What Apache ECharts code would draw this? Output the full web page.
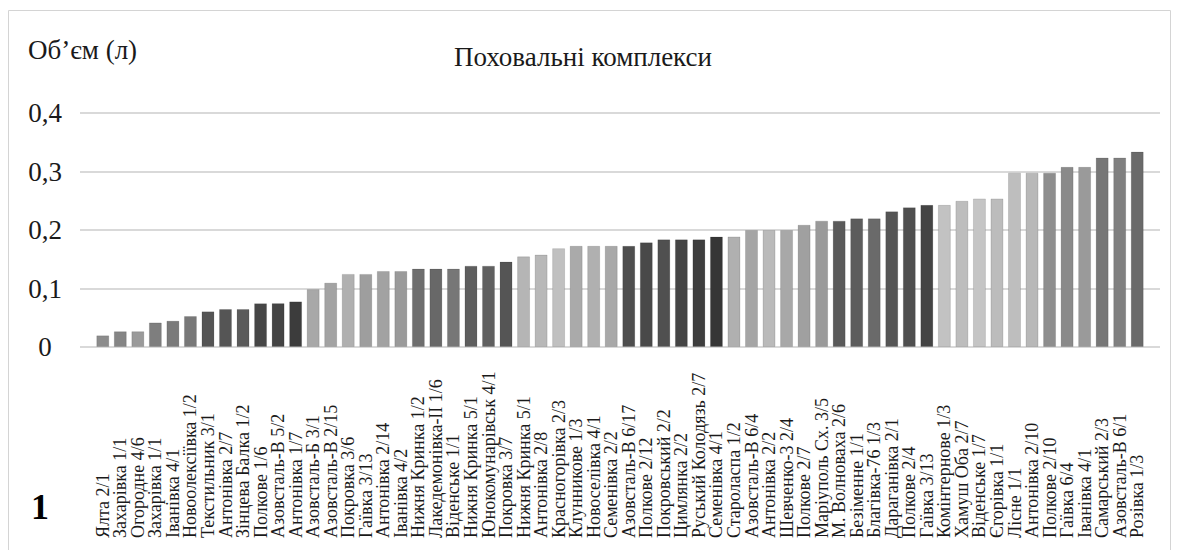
<!DOCTYPE html>
<html>
<head>
<meta charset="utf-8">
<title>Поховальні комплекси</title>
<script src="https://cdn.jsdelivr.net/npm/echarts@6/dist/echarts.min.js"></script>
<style>
  html, body { margin: 0; padding: 0; background: #ffffff; }
  #chart { width: 1179px; height: 550px; }
</style>
</head>
<body>
<div id="chart"></div>
<script>
// Burial complexes, sorted by vessel volume (litres)
const complexes = [
  'Ялта 2/1', 'Захарівка 1/1', 'Огородне 4/6', 'Захарівка 1/1', 'Іванівка 4/1',
  'Новоолексіївка 1/2', 'Текстильник 3/1', 'Антонівка 2/7', 'Зінцева Балка 1/2', 'Полкове 1/6',
  'Азовсталь-В 5/2', 'Антонівка 1/7', 'Азовсталь-Б 3/1', 'Азовсталь-В 2/15', 'Покровка 3/6',
  'Гаївка 3/13', 'Антонівка 2/14', 'Іванівка 4/2', 'Нижня Кринка 1/2', 'Лакедемонівка-II 1/6',
  'Віденське 1/1', 'Нижня Кринка 5/1', 'Юнокомунарівськ 4/1', 'Покровка 3/7', 'Нижня Кринка 5/1',
  'Антонівка 2/8', 'Красногорівка 2/3', 'Клунникове 1/3', 'Новоселівка 4/1', 'Семенівка 2/2',
  'Азовсталь-В 6/17', 'Полкове 2/12', 'Покровський 2/2', 'Цимлянка 2/2', 'Руський Колодязь 2/7',
  'Семенівка 4/1', 'Староласпа 1/2', 'Азовсталь-В 6/4', 'Антонівка 2/2', 'Шевченко-3 2/4',
  'Полкове 2/7', 'Маріуполь Сх. 3/5', 'М. Волноваха 2/6', 'Безіменне 1/1', 'Благівка-76 1/3',
  'Дараганівка 2/1', 'Полкове 2/4', 'Гаївка 3/13', 'Комінтернове 1/3', 'Хамуш Оба 2/7',
  'Віденське 1/7', 'Єгорівка 1/1', 'Лісне 1/1', 'Антонівка 2/10', 'Полкове 2/10',
  'Гаївка 6/4', 'Іванівка 4/1', 'Самарський 2/3', 'Азовсталь-В 6/1', 'Розівка 1/3'
];

const volumes = [
  0.020, 0.027, 0.027, 0.042, 0.045, 0.053, 0.061, 0.065, 0.065, 0.075,
  0.075, 0.078, 0.099, 0.110, 0.125, 0.125, 0.130, 0.130, 0.134, 0.134,
  0.134, 0.139, 0.139, 0.146, 0.155, 0.158, 0.169, 0.173, 0.173, 0.173,
  0.173, 0.179, 0.184, 0.184, 0.184, 0.189, 0.189, 0.200, 0.200, 0.200,
  0.209, 0.216, 0.216, 0.220, 0.220, 0.232, 0.239, 0.243, 0.243, 0.250,
  0.254, 0.254, 0.298, 0.298, 0.298, 0.308, 0.308, 0.324, 0.324, 0.334
];

// Grey shade of each bar, in the same order as the complexes
const barShades = [
  '#8c8c8c', '#858585', '#9a9a9a', '#7e7e7e', '#7a7a7a', '#787878', '#555555', '#555555', '#5a5a5a', '#464646',
  '#444444', '#3c3c3c', '#a8a8a8', '#a3a3a3', '#b0b0b0', '#9e9e9e', '#a2a2a2', '#9a9a9a', '#6e6e6e', '#686868',
  '#777777', '#5e5e5e', '#606060', '#555555', '#b5b5b5', '#b8b8b8', '#c0c0c0', '#aaaaaa', '#b0b0b0', '#a8a8a8',
  '#4e4e4e', '#494949', '#505050', '#444444', '#3e3e3e', '#363636', '#b0b0b0', '#a5a5a5', '#bababa', '#a8a8a8',
  '#a0a0a0', '#9a9a9a', '#5a5a5a', '#5c5c5c', '#6a6a6a', '#555555', '#4f4f4f', '#444444', '#c2c2c2', '#bdbdbd',
  '#c5c5c5', '#bcbcbc', '#bebebe', '#b8b8b8', '#8e8e8e', '#8a8a8a', '#9a9a9a', '#777777', '#808080', '#6a6a6a'
];

const yTicks = { min: 0, max: 0.4, step: 0.1 };
const titleText = 'Поховальні комплекси';
const yName = 'Об’єм (л)';
const panelNumber = '1';

const serif = "'Liberation Serif', 'Times New Roman', 'DejaVu Serif', serif";
const ink = '#1a1a1a';

const chart = echarts.init(document.getElementById('chart'), null, { renderer: 'svg' });

const barData = volumes.map((v, i) => ({
  value: v,
  itemStyle: { color: barShades[i] }
}));

chart.setOption({
  animation: false,
  backgroundColor: '#ffffff',
  textStyle: { fontFamily: serif },
  grid: [
    // grid for the value scale and horizontal gridlines
    { left: 80, right: 19, top: 113, bottom: 203 },
    // grid for the bars and category labels
    { left: 94, right: 33, top: 113, bottom: 203 }
  ],
  xAxis: [
    { type: 'value', gridIndex: 0, show: false, min: 0, max: 1 },
    {
      type: 'category',
      gridIndex: 1,
      data: complexes,
      axisLine: { show: false },
      axisTick: { show: false },
      axisLabel: {
        interval: 0,
        rotate: 90,
        align: 'left',
        verticalAlign: 'middle',
        margin: 191,
        fontFamily: serif,
        fontSize: 18,
        color: ink
      }
    }
  ],
  yAxis: [
    {
      type: 'value',
      gridIndex: 0,
      min: yTicks.min,
      max: yTicks.max,
      interval: yTicks.step,
      axisLine: { show: false },
      axisTick: { show: false },
      splitLine: { show: true, lineStyle: { color: '#d9d9d9', width: 2 } },
      axisLabel: {
        margin: 35,
        align: 'center',
        fontFamily: serif,
        fontSize: 27,
        color: ink,
        formatter: v => (v === 0 ? '0' : v.toFixed(1).replace('.', ','))
      }
    },
    {
      type: 'value',
      gridIndex: 1,
      min: yTicks.min,
      max: yTicks.max,
      interval: yTicks.step,
      show: false
    }
  ],
  series: [
    {
      type: 'bar',
      xAxisIndex: 1,
      yAxisIndex: 1,
      barWidth: 13,
      data: barData,
      itemStyle: { borderColor: 'rgba(0,0,0,0.12)', borderWidth: 1 }
    }
  ],
  graphic: [
    {
      type: 'rect',
      silent: true,
      shape: { x: 8.5, y: 10.5, width: 1162, height: 560 },
      style: { fill: 'none', stroke: '#d4d4d4', lineWidth: 1 }
    },
    {
      type: 'text',
      silent: true,
      x: 28, y: 50,
      style: { text: yName, font: '27px ' + serif, fill: ink, textVerticalAlign: 'middle' }
    },
    {
      type: 'text',
      silent: true,
      x: 583, y: 57,
      style: { text: titleText, font: '27px ' + serif, fill: ink, textAlign: 'center', textVerticalAlign: 'middle' }
    },
    {
      type: 'text',
      silent: true,
      x: 31, y: 507,
      style: { text: panelNumber, font: 'bold 36px ' + serif, fill: '#000000', textVerticalAlign: 'middle' }
    }
  ]
});
</script>
</body>
</html>
